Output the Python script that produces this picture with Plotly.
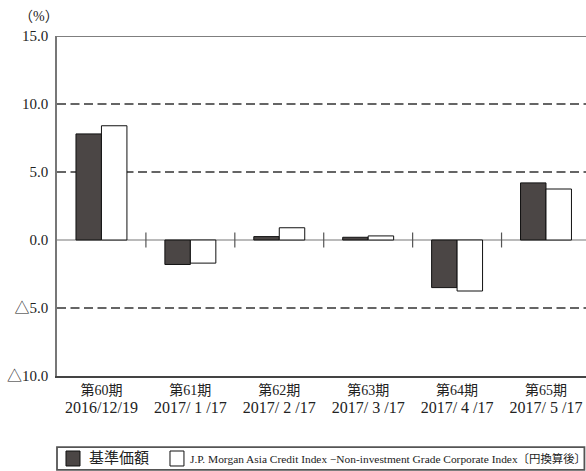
import plotly.graph_objects as go

periods = ["第60期", "第61期", "第62期", "第63期", "第64期", "第65期"]
dates = ["2016/12/19", "2017/ 1 /17", "2017/ 2 /17", "2017/ 3 /17", "2017/ 4 /17", "2017/ 5 /17"]
nav_values = [7.8, -1.8, 0.25, 0.2, -3.5, 4.2]
index_values = [8.4, -1.7, 0.9, 0.3, -3.75, 3.75]
nav_name = "基準価額"
index_name = "J.P. Morgan Asia Credit Index −Non-investment Grade Corporate Index〔円換算後〕"
y_tickvals = [15, 10, 5, 0, -5, -10]
y_ticktext = ["15.0", "10.0", "5.0", "0.0", "△5.0", "△10.0"]

FONT = "Liberation Serif, Noto Sans CJK JP, serif"
DARK = "#4b4645"

categories = [f"{p}<br><span style='font-size:16px'>{d}</span>" for p, d in zip(periods, dates)]
xs = list(range(len(categories)))
fig = go.Figure()
fig.add_bar(x=xs, y=nav_values, name=nav_name, showlegend=False,
            marker=dict(color=DARK, line=dict(color="#111", width=1)))
fig.add_bar(x=xs, y=index_values, name=index_name, showlegend=False,
            marker=dict(color="white", line=dict(color="#111", width=1)))

shapes = []
for v in [10, 5, -5]:
    shapes.append(dict(type="line", xref="paper", x0=0, x1=1, yref="y", y0=v, y1=v,
                       line=dict(color="#333", width=1.4, dash="9px,4.5px"), layer="below"))
shapes.append(dict(type="line", xref="paper", x0=0, x1=1, yref="y", y0=0, y1=0,
                   line=dict(color="#777", width=1.2), layer="below"))
shapes.append(dict(type="line", xref="paper", x0=0, x1=1, yref="y", y0=15, y1=15,
                   line=dict(color="#555", width=1.5)))
for i in range(len(categories) - 1):
    shapes.append(dict(type="line", xref="x", x0=i + 0.5, x1=i + 0.5, yref="y", y0=-0.55, y1=0.55,
                       line=dict(color="#555", width=1.2)))
# legend box and swatches
shapes.append(dict(type="rect", xref="paper", yref="paper", x0=0, x1=0.997, y0=-0.276, y1=-0.209,
                   line=dict(color="#555", width=1.8)))
shapes.append(dict(type="rect", xref="paper", yref="paper", x0=0.017, x1=0.0435, y0=-0.2647, y1=-0.2206,
                   fillcolor=DARK, line=dict(color="#111", width=1)))
shapes.append(dict(type="rect", xref="paper", yref="paper", x0=0.2136, x1=0.240, y0=-0.2647, y1=-0.2206,
                   fillcolor="white", line=dict(color="#111", width=1)))

annotations = [
    dict(text="（%）", xref="paper", yref="paper", x=-0.075, y=1.03,
         xanchor="left", yanchor="bottom", showarrow=False,
         font=dict(family=FONT, size=14, color="#222")),
    dict(text=nav_name, xref="paper", yref="paper", x=0.0567, y=-0.2426,
         xanchor="left", yanchor="middle", showarrow=False,
         font=dict(family=FONT, size=15, color="#222")),
    dict(text=index_name, xref="paper", yref="paper", x=0.2475, y=-0.2426,
         xanchor="left", yanchor="middle", showarrow=False,
         font=dict(family=FONT, size=11.4, color="#222")),
]

fig.update_layout(
    width=586, height=471,
    margin=dict(l=57, r=0, t=36, b=95, autoexpand=False),
    plot_bgcolor="white", paper_bgcolor="white",
    barmode="group", bargap=0.427, bargroupgap=0,
    font=dict(family=FONT, size=14, color="#222"),
    shapes=shapes, annotations=annotations,
    showlegend=False,
)
fig.update_xaxes(range=[-0.5, 5.45], tickvals=xs, ticktext=categories, showgrid=False,
                 showline=True, linecolor="#444", linewidth=1.5, ticks="",
                 tickfont=dict(family=FONT, size=14, color="#222"), zeroline=False)
fig.update_yaxes(range=[-10, 15], tickvals=y_tickvals, ticktext=y_ticktext, showgrid=False,
                 showline=True, linecolor="#777", linewidth=1.5, ticks="", zeroline=False,
                 tickfont=dict(family=FONT, size=15, color="#222"), ticklabelstandoff=4)

fig.write_html("out.html", config={"displayModeBar": False},
               post_script="document.body.style.margin='0';document.body.style.overflow='hidden';")
